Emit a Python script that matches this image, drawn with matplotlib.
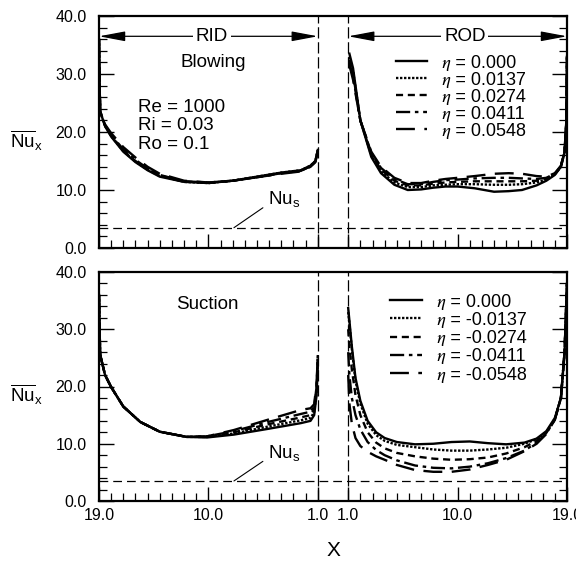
import numpy as np
import matplotlib
matplotlib.use('Agg')
import matplotlib.pyplot as plt
from matplotlib.ticker import FixedLocator

plt.rcParams['font.family'] = 'Liberation Sans'
plt.rcParams['mathtext.fontset'] = 'custom'
plt.rcParams['mathtext.rm'] = 'Liberation Sans'
plt.rcParams['mathtext.it'] = 'Liberation Sans:italic'
plt.rcParams['mathtext.bf'] = 'Liberation Sans:bold'

# ---------------- data ----------------
eta_blow = ['0.000', '0.0137', '0.0274', '0.0411', '0.0548']
eta_suck = ['0.000', '-0.0137', '-0.0274', '-0.0411', '-0.0548']
nu_s = 3.5

# Blowing, RID (x runs 19 -> 1)
x_rid_blow = [19.0, 18.95, 18.9, 18.5, 18.0, 17.0, 16.0, 15.0, 14.0, 12.0, 10.0, 8.0, 6.0, 4.0, 2.4, 1.6, 1.2, 1.0]
rid_blow_0 = [36.0, 28.0, 23.5, 21.0, 19.2, 16.6, 14.8, 13.4, 12.3, 11.4, 11.2, 11.6, 12.3, 13.0, 13.4, 14.2, 15.0, 16.9]
rid_blow_1 = [36.0, 28.0, 23.5, 21.0, 19.3, 16.7, 14.9, 13.5, 12.4, 11.4, 11.2, 11.6, 12.3, 13.0, 13.4, 14.2, 15.0, 16.9]
rid_blow_2 = [36.0, 28.0, 23.5, 21.1, 19.4, 16.8, 15.0, 13.6, 12.5, 11.5, 11.2, 11.6, 12.2, 12.9, 13.3, 14.1, 14.9, 16.8]
rid_blow_3 = [36.0, 28.0, 23.5, 21.2, 19.5, 17.0, 15.2, 13.7, 12.6, 11.5, 11.3, 11.6, 12.2, 12.9, 13.3, 14.1, 14.9, 16.8]
rid_blow_4 = [36.0, 28.0, 23.5, 21.3, 19.8, 17.4, 15.6, 14.0, 12.8, 11.6, 11.3, 11.6, 12.2, 12.8, 13.2, 14.0, 14.8, 16.7]

# Blowing, ROD (x runs 1 -> 19)
x_rod_blow = [1.1, 1.4, 2.0, 2.9, 3.7, 4.8, 5.9, 7.0, 8.0, 9.0, 10.0, 11.4, 13.0, 14.2, 15.3, 16.5, 17.3, 18.0, 18.5, 18.8, 18.95, 19.0]
rod_blow_0 = [33.5, 31.0, 22.0, 15.7, 12.9, 10.9, 10.0, 10.1, 10.4, 10.6, 10.6, 10.3, 9.7, 9.8, 10.0, 10.8, 11.6, 12.6, 14.0, 16.5, 22.0, 33.0]
rod_blow_1 = [33.0, 30.5, 22.0, 16.0, 13.2, 11.3, 10.5, 10.5, 10.8, 10.9, 11.0, 11.0, 10.9, 10.9, 11.0, 11.3, 11.8, 12.7, 14.0, 16.5, 22.0, 33.0]
rod_blow_2 = [32.5, 30.0, 22.0, 16.2, 13.5, 11.6, 10.8, 10.8, 11.1, 11.3, 11.4, 11.5, 11.5, 11.5, 11.5, 11.6, 12.0, 12.8, 14.1, 16.6, 22.0, 33.0]
rod_blow_3 = [32.0, 29.5, 22.0, 16.4, 13.8, 11.9, 11.0, 11.0, 11.4, 11.7, 11.8, 12.0, 12.1, 12.1, 12.0, 11.9, 12.1, 12.8, 14.1, 16.6, 22.0, 33.0]
rod_blow_4 = [31.5, 29.0, 22.0, 16.6, 14.0, 12.1, 11.2, 11.2, 11.6, 11.9, 12.1, 12.4, 12.8, 12.9, 12.8, 12.4, 12.3, 12.9, 14.2, 16.7, 22.0, 33.0]

# Suction, RID (x runs 19 -> 1)
x_rid_suck = [19.0, 18.95, 18.9, 18.5, 18.0, 17.0, 15.6, 14.0, 11.8, 10.1, 7.9, 5.1, 2.4, 1.6, 1.3, 1.1, 1.0]
rid_suck_0 = [36.0, 30.0, 25.5, 22.0, 19.9, 16.5, 13.8, 12.1, 11.2, 11.1, 11.6, 12.6, 13.6, 14.0, 15.0, 18.5, 24.5]
rid_suck_1 = [36.0, 30.0, 25.5, 22.0, 19.9, 16.5, 13.8, 12.1, 11.2, 11.2, 11.8, 13.0, 14.1, 14.5, 15.5, 19.0, 24.8]
rid_suck_2 = [36.0, 30.0, 25.5, 22.0, 19.9, 16.5, 13.8, 12.1, 11.2, 11.2, 12.0, 13.4, 14.6, 15.0, 16.0, 19.5, 25.0]
rid_suck_3 = [36.0, 30.0, 25.5, 22.0, 19.9, 16.5, 13.8, 12.1, 11.2, 11.3, 12.2, 13.8, 15.2, 15.6, 16.4, 20.0, 25.2]
rid_suck_4 = [36.0, 30.0, 25.5, 22.0, 19.9, 16.5, 13.8, 12.1, 11.2, 11.3, 12.4, 14.2, 15.9, 16.2, 16.9, 20.5, 25.5]

# Suction, ROD (x runs 1 -> 19)
x_rod_suck = [1.0, 1.1, 1.3, 1.6, 2.0, 2.6, 3.3, 4.0, 5.0, 6.5, 8.0, 9.5, 11.0, 12.5, 14.0, 15.5, 16.5, 17.3, 18.0, 18.5, 18.8, 19.0]
rod_suck_0 = [33.7, 31.5, 27.0, 21.5, 17.5, 14.0, 12.0, 11.0, 10.3, 9.9, 10.0, 10.3, 10.4, 10.1, 9.9, 10.2, 10.9, 12.2, 14.5, 18.0, 26.0, 38.0]
rod_suck_1 = [33.0, 31.0, 26.5, 21.0, 17.0, 13.5, 11.5, 10.5, 9.8, 9.4, 9.0, 8.8, 8.8, 9.0, 9.3, 10.0, 10.8, 12.0, 14.4, 18.0, 26.0, 38.0]
rod_suck_2 = [30.0, 27.0, 23.0, 18.5, 15.0, 12.0, 10.2, 9.2, 8.4, 7.8, 7.4, 7.2, 7.3, 7.6, 8.3, 9.4, 10.5, 11.9, 14.3, 18.0, 26.0, 38.0]
rod_suck_3 = [26.0, 22.0, 18.0, 15.0, 12.5, 10.3, 8.9, 8.0, 7.1, 6.2, 5.8, 5.7, 6.0, 6.6, 7.5, 8.8, 10.2, 11.8, 14.2, 18.0, 26.0, 38.0]
rod_suck_4 = [22.0, 17.0, 13.5, 11.0, 9.6, 8.6, 7.8, 7.2, 6.3, 5.4, 5.1, 5.1, 5.5, 6.3, 7.2, 8.7, 10.0, 11.7, 14.2, 18.0, 26.0, 38.0]

x_tick_values = [19.0, 10.0, 1.0]

# ---------------- layout helpers ----------------
GAP = 2.5
def u_rid(x):
    return 19.0 - np.asarray(x)
def u_rod(x):
    return 18.0 + GAP + (np.asarray(x) - 1.0)

styles = ['-', (0, (1, 0.7)), (0, (3, 2)), (0, (6, 2, 1.5, 2)), (0, (8, 4))]
LW = 1.7

fig = plt.figure(figsize=(5.76, 5.61), dpi=100)
ax1 = fig.add_axes([99/576, 1-248/561, 468/576, 232/561])
ax2 = fig.add_axes([99/576, 1-501/561, 468/576, 229/561])

panels = [
    (ax1, x_rid_blow, [rid_blow_0, rid_blow_1, rid_blow_2, rid_blow_3, rid_blow_4],
     x_rod_blow, [rod_blow_0, rod_blow_1, rod_blow_2, rod_blow_3, rod_blow_4], eta_blow),
    (ax2, x_rid_suck, [rid_suck_0, rid_suck_1, rid_suck_2, rid_suck_3, rid_suck_4],
     x_rod_suck, [rod_suck_0, rod_suck_1, rod_suck_2, rod_suck_3, rod_suck_4], eta_suck),
]

umax = u_rod(19.0)
major_u = list(u_rid(x_tick_values)) + list(u_rod(x_tick_values[::-1]))
major_lbl = ['%.1f' % v for v in x_tick_values] + ['%.1f' % v for v in x_tick_values[::-1]]
minor_u = [u for u in np.arange(1, 18)] + [u_rod(1.0) + k for k in range(1, 18)]

leg_family = ['Liberation Sans', 'STIXGeneral', 'DejaVu Sans']

for ax, xr, rid_series, xo, rod_series, etas in panels:
    handles = []
    for k in range(5):
        ax.plot(u_rid(xr), rid_series[k], color='black', lw=LW, ls=styles[k])
        ln, = ax.plot(u_rod(xo), rod_series[k], color='black', lw=LW, ls=styles[k])
        handles.append(ln)
    ax.set_xlim(0, umax)
    ax.set_ylim(0, 40)
    ax.axvline(18.0, color='black', lw=0.9, ls=(0, (9, 3)))
    ax.axvline(18.0 + GAP, color='black', lw=0.9, ls=(0, (9, 3)))
    ax.axhline(nu_s, color='black', lw=0.9, ls=(0, (7, 4)))
    for s in ax.spines.values():
        s.set_linewidth(1.6)
    ax.xaxis.set_major_locator(FixedLocator(major_u))
    ax.xaxis.set_minor_locator(FixedLocator(minor_u))
    ax.set_yticks([0, 10, 20, 30, 40])
    ax.set_yticklabels(['0.0', '10.0', '20.0', '30.0', '40.0'])
    ax.yaxis.set_minor_locator(FixedLocator(np.arange(0, 41, 2)))
    ax.tick_params(which='both', direction='in', left=True, right=True, top=False, bottom=True,
                   labelsize=11.5)
    ax.tick_params(axis='y', which='major', length=11, width=1.0, pad=9)
    ax.tick_params(axis='y', which='minor', length=6, width=0.9)
    ax.tick_params(axis='x', which='major', length=10, width=1.0, pad=5)
    ax.tick_params(axis='x', which='minor', length=6, width=0.9)
    leg_labels = ['\U0001D702 = ' + e for e in etas]
    if ax is ax1:
        ax.set_xticklabels([])
        leg = ax.legend(handles, leg_labels, loc='upper left', bbox_to_anchor=(0.635, 0.834),
                        frameon=False, prop=dict(family=leg_family, size=13),
                        handlelength=1.72, handletextpad=0.83,
                        labelspacing=0.0, borderpad=0, borderaxespad=0)
    else:
        ax.set_xticklabels(major_lbl)
        leg = ax.legend(handles, leg_labels, loc='upper left', bbox_to_anchor=(0.622, 0.906),
                        frameon=False, prop=dict(family=leg_family, size=13),
                        handlelength=1.78, handletextpad=0.83,
                        labelspacing=0.07, borderpad=0, borderaxespad=0)
    # y label
    ax.text(-0.155, 18.5, r'$\overline{\mathrm{Nu}}_{\mathrm{x}}$', transform=ax.get_yaxis_transform(),
            ha='center', va='center', fontsize=13.5, math_fontfamily='custom')
    # Nu_s annotation
    ax.annotate(r'Nu$_{\mathrm{s}}$', xy=(11.1, nu_s), xytext=(13.9, 8.4),
                ha='left', va='center', fontsize=13.5, math_fontfamily='custom',
                arrowprops=dict(arrowstyle='-', color='black', lw=0.8, shrinkA=2, shrinkB=0,
                                relpos=(0, 0.25)))

# RID / ROD arrows (top panel)
for (a, b, c, lbl) in [(0.0, 18.0, 9.3, 'RID'), (u_rod(1.0), umax, 30.1, 'ROD')]:
    ax1.annotate('', xy=(a, 36.5), xytext=(b, 36.5),
                 arrowprops=dict(arrowstyle='<|-|>,head_length=1.6,head_width=0.3',
                                 color='black', lw=0.9, shrinkA=0, shrinkB=0, mutation_scale=10))
    ax1.text(c, 36.5, lbl, ha='center', va='center', fontsize=13.5,
             bbox=dict(fc='white', ec='none', pad=2))

ax1.text(9.4, 31.9, 'Blowing', ha='center', va='center', fontsize=13.5)
ax1.text(3.2, 24.3, 'Re = 1000', ha='left', va='center', fontsize=13.5)
ax1.text(3.2, 21.2, 'Ri = 0.03', ha='left', va='center', fontsize=13.5)
ax1.text(3.2, 17.9, 'Ro = 0.1', ha='left', va='center', fontsize=13.5)
ax2.text(8.9, 34.4, 'Suction', ha='center', va='center', fontsize=13.5)

fig.text(333/576, 1-551/561, 'X', ha='center', va='center', fontsize=15)

fig.savefig('out.png', dpi=100)
